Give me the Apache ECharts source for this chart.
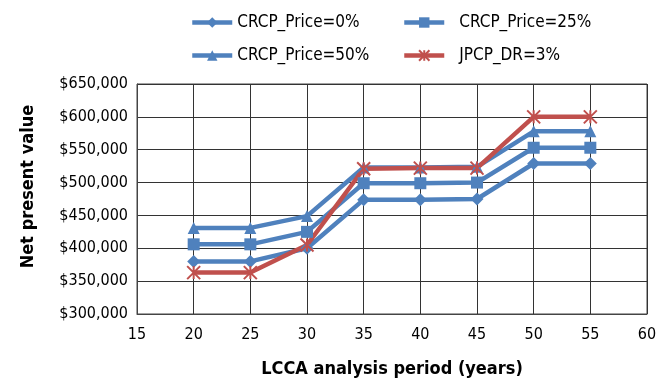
<!DOCTYPE html>
<html>
<head>
<meta charset="utf-8">
<script src="https://cdn.jsdelivr.net/npm/echarts@6/dist/echarts.min.js"></script>
<style>
  html, body { margin: 0; padding: 0; background: #fff; }
  #chart { width: 672px; height: 383px; }
</style>
</head>
<body>
<div id="chart"></div>
<script>
// Analysis periods (years)
const periods = [20, 25, 30, 35, 40, 45, 50, 55];

// Net present value for each scenario
const crcpPrice0 = [380000, 380000, 400000, 474000, 474000, 475000, 529000, 529000];
const crcpPrice25 = [406000, 406000, 425000, 499000, 499000, 500000, 553000, 553000];
const crcpPrice50 = [431000, 431000, 449000, 523000, 523000, 524000, 578000, 578000];
const jpcpDr3 = [363000, 363000, 405000, 521000, 522000, 522000, 600000, 600000];

const seriesNames = ['CRCP_Price=0%', 'CRCP_Price=25%', 'CRCP_Price=50%', 'JPCP_DR=3%'];

const FONT = "'Liberation Sans Narrow', 'DejaVu Sans Condensed', 'Arial Narrow', sans-serif";
const BLUE = '#4F81BD';
const RED = '#C0504D';
const ASTERISK = 'path://M0,0L10,10M10,0L0,10M5,0L5,10';

function pairs(values) {
  return periods.map((p, i) => [p, values[i]]);
}

function money(v) {
  return '$' + v.toLocaleString('en-US');
}

function lineSeries(name, values, color, symbol, size, extra) {
  return Object.assign({
    name: name,
    type: 'line',
    data: pairs(values),
    symbol: symbol,
    symbolSize: size,
    showSymbol: true,
    lineStyle: { color: color, width: 4.5 },
    itemStyle: { color: color },
    emphasis: { disabled: true },
    animation: false
  }, extra || {});
}

function legendAt(name, left, top, textGap) {
  return {
    data: [name],
    left: left,
    top: top,
    padding: 0,
    itemWidth: 40,
    itemHeight: 13,
    itemGap: 0,
    lineStyle: { width: 4.5 },
    textStyle: { fontFamily: FONT, fontSize: 17, color: '#000', padding: [0, 0, 0, textGap] },
    selectedMode: false
  };
}

const chart = echarts.init(document.getElementById('chart'), null, { renderer: 'canvas' });
chart.setOption({
  backgroundColor: '#fff',
  animation: false,
  legend: [
    legendAt(seriesNames[0], 190, 14, 0),
    legendAt(seriesNames[1], 402, 14, 10),
    legendAt(seriesNames[2], 190, 47, 0),
    legendAt(seriesNames[3], 402, 47, 10)
  ],
  grid: { left: 137, right: 25, top: 84, bottom: 69, show: true, borderColor: '#444', borderWidth: 1 },
  xAxis: {
    type: 'value',
    min: 15,
    max: 60,
    interval: 5,
    name: 'LCCA analysis period (years)',
    nameLocation: 'middle',
    nameGap: 46,
    nameTextStyle: { fontFamily: FONT, fontSize: 18, fontWeight: 'bold', color: '#000', verticalAlign: 'top' },
    axisLine: { show: true, lineStyle: { color: '#444', width: 1 } },
    axisTick: { show: false },
    axisLabel: { fontFamily: FONT, fontSize: 16, color: '#000', margin: 13 },
    splitLine: { show: true, lineStyle: { color: '#333', width: 1 } }
  },
  yAxis: {
    type: 'value',
    min: 300000,
    max: 650000,
    interval: 50000,
    name: 'Net present value',
    nameLocation: 'middle',
    nameRotate: 90,
    nameGap: 100,
    nameTextStyle: { fontFamily: FONT, fontSize: 18, fontWeight: 'bold', color: '#000', padding: [0, 0, 0, 25] },
    axisLine: { show: true, lineStyle: { color: '#444', width: 1 } },
    axisTick: { show: false },
    axisLabel: { fontFamily: FONT, fontSize: 16, color: '#000', margin: 9, formatter: money },
    splitLine: { show: true, lineStyle: { color: '#333', width: 1 } }
  },
  series: [
    lineSeries(seriesNames[0], crcpPrice0, BLUE, 'diamond', 13),
    lineSeries(seriesNames[1], crcpPrice25, BLUE, 'rect', 12),
    lineSeries(seriesNames[2], crcpPrice50, BLUE, 'triangle', 12),
    lineSeries(seriesNames[3], jpcpDr3, RED, ASTERISK, 13, {
      itemStyle: { color: RED, borderColor: RED, borderWidth: 2 }
    })
  ]
});
</script>
</body>
</html>
